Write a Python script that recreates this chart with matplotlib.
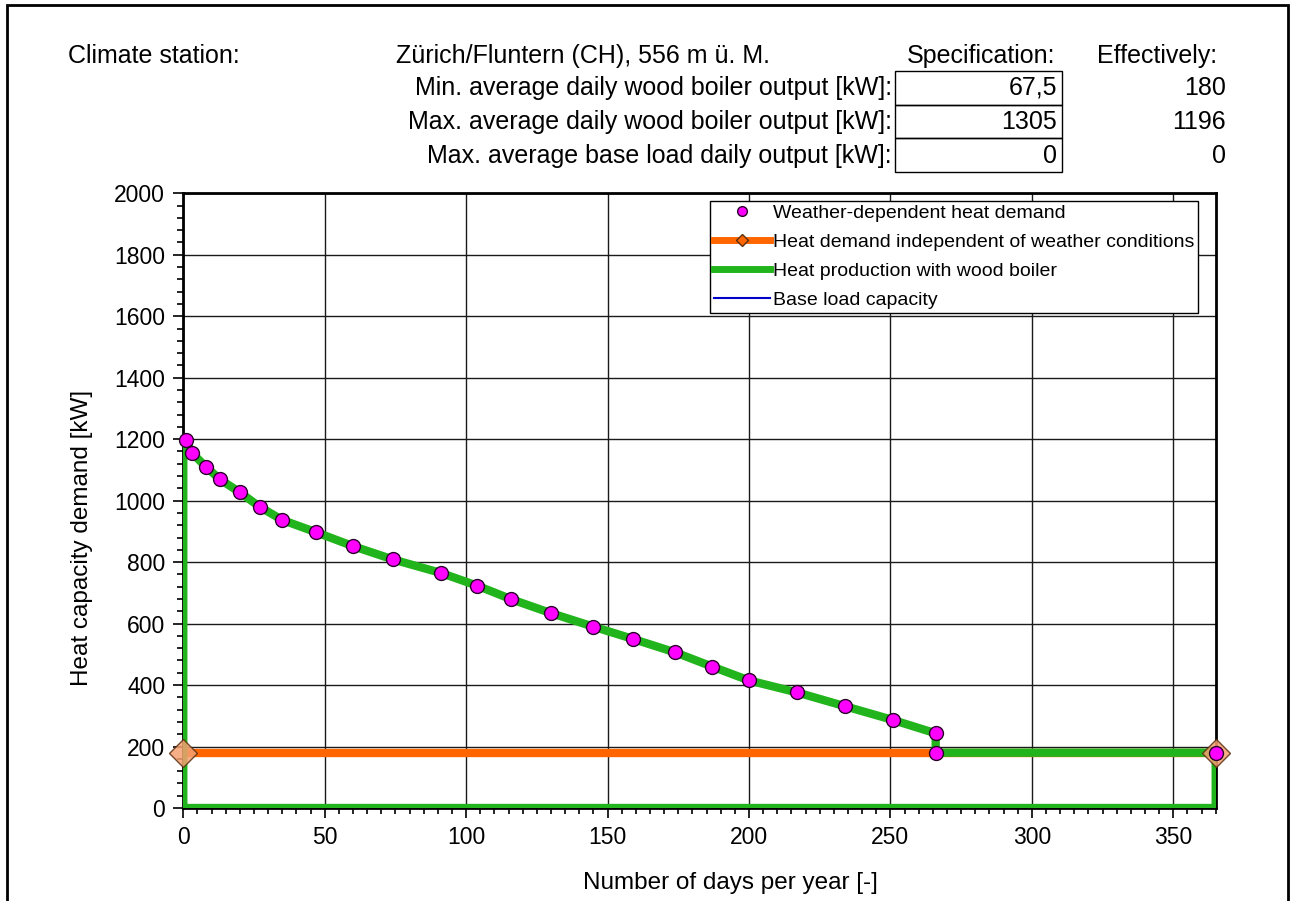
import matplotlib
matplotlib.use("Agg")
import matplotlib.pyplot as plt
from matplotlib.patches import Rectangle
from matplotlib.lines import Line2D
from matplotlib.ticker import MultipleLocator

plt.rcParams['font.family'] = ['Liberation Sans', 'DejaVu Sans']

# weather-dependent heat demand (sorted duration curve)
demand_days = [1, 3, 8, 13, 20, 27, 35, 47, 60, 74, 91, 104, 116, 130, 145,
               159, 174, 187, 200, 217, 234, 251, 266, 266, 365]
demand_kw = [1196, 1156, 1110, 1069, 1027, 980, 937, 897, 852, 809, 765, 723,
             679, 634, 590, 550, 506, 460, 415, 376, 331, 286, 243, 180, 180]

# heat demand independent of weather conditions
indep_days = [0, 365]
indep_kw = [180, 180]

# base load capacity
base_days = [0, 365]
base_kw = [0, 0]

# header table
station = "Zürich/Fluntern (CH), 556 m ü. M."
row_labels = ["Min. average daily wood boiler output [kW]:",
              "Max. average daily wood boiler output [kW]:",
              "Max. average base load daily output [kW]:"]
spec_values = ["67,5", "1305", "0"]
eff_values = ["180", "1196", "0"]

W, H = 1293, 901
fig = plt.figure(figsize=(W / 100, H / 100), dpi=100)


def fx(px):
    return px / W


def fy(py):
    return 1 - py / H


# outer frame
fig.patches.append(Rectangle((fx(7), -0.05), fx(1288) - fx(7), fy(5) + 0.05,
                             transform=fig.transFigure, fill=False,
                             edgecolor='black', linewidth=2))

# header
hs = 18
fig.text(fx(68), fy(56), "Climate station:", fontsize=hs, va='center', ha='left')
fig.text(fx(396), fy(56), station, fontsize=hs, va='center', ha='left')
fig.text(fx(981), fy(56), "Specification:", fontsize=hs, va='center', ha='center')
fig.text(fx(1157), fy(56), "Effectively:", fontsize=hs, va='center', ha='center')
row_y = [88, 122, 156]
for lbl, sv, ev, ry in zip(row_labels, spec_values, eff_values, row_y):
    fig.text(fx(892), fy(ry), lbl, fontsize=hs, va='center', ha='right')
    fig.text(fx(1057), fy(ry), sv, fontsize=hs, va='center', ha='right')
    fig.text(fx(1226), fy(ry), ev, fontsize=hs, va='center', ha='right')
# boxes around specification values
edges = [71, 104.5, 138, 172]
for top, bot in zip(edges[:-1], edges[1:]):
    fig.patches.append(Rectangle((fx(895), fy(bot)), fx(1062) - fx(895), fy(top) - fy(bot),
                                 transform=fig.transFigure, fill=False,
                                 edgecolor='black', linewidth=1))

ax = fig.add_axes([fx(183.3), fy(808), fx(1215.7) - fx(183.3), fy(193.3) - fy(808)])

# wood boiler production outline
prod_days = [0, 0] + demand_days + [365, 0]
prod_kw = [0, demand_kw[0]] + demand_kw + [0, 0]

ax.plot(base_days, base_kw, color='#0000CC', linewidth=1.2, zorder=2)
ax.plot(indep_days, indep_kw, color='#FF6600', linewidth=6, zorder=3,
        solid_capstyle='butt')
ax.plot(prod_days, prod_kw, color='#22B41C', linewidth=6, zorder=4,
        solid_joinstyle='round')
ax.plot(indep_days, indep_kw, linestyle='none', marker='D', markersize=14,
        markerfacecolor='#F4A070', markeredgecolor='#5A3010', markeredgewidth=1,
        alpha=0.85, zorder=5, clip_on=False)
ax.plot(demand_days, demand_kw, linestyle='none', marker='o', markersize=10,
        markerfacecolor='#FF00FF', markeredgecolor='#2A002A', markeredgewidth=1,
        zorder=6, clip_on=False)

ax.set_xlim(0, 365)
ax.set_ylim(0, 2000)
ax.xaxis.set_major_locator(MultipleLocator(50))
ax.xaxis.set_minor_locator(MultipleLocator(5))
ax.yaxis.set_major_locator(MultipleLocator(200))
ax.yaxis.set_minor_locator(MultipleLocator(40))
ax.tick_params(which='major', direction='out', length=7, width=1.2, labelsize=16.5, pad=6)
ax.tick_params(which='minor', direction='out', length=4, width=1.2)
ax.grid(True, which='major', color='#1a1a1a', linewidth=1)
for sp in ax.spines.values():
    sp.set_linewidth(2)

ax.set_xlabel("Number of days per year [-]", fontsize=17.5)
ax.set_ylabel("Heat capacity demand [kW]", fontsize=17.5)
ax.xaxis.set_label_coords(0.5296, -0.104)
ax.yaxis.set_label_coords(-0.0875, 0.44)

handles = [
    Line2D([], [], linestyle='none', marker='o', markersize=7,
           markerfacecolor='#FF00FF', markeredgecolor='#2A002A'),
    Line2D([], [], color='#FF6600', linewidth=5, marker='D', markersize=6,
           markerfacecolor='#FF6600', markeredgecolor='#5A3010'),
    Line2D([], [], color='#22B41C', linewidth=5),
    Line2D([], [], color='#0000CC', linewidth=1.5),
]
labels = ["Weather-dependent heat demand",
          "Heat demand independent of weather conditions",
          "Heat production with wood boiler",
          "Base load capacity"]
leg = ax.legend(handles, labels, loc='upper right', bbox_to_anchor=(0.983, 0.988),
                fontsize=14, frameon=True, fancybox=False, framealpha=1,
                edgecolor='black', handlelength=2.9, handletextpad=0.15,
                labelspacing=0.58, borderpad=0.2, borderaxespad=0)
leg.get_frame().set_linewidth(1)
leg.set_zorder(10)

fig.savefig("out.png", dpi=100)
